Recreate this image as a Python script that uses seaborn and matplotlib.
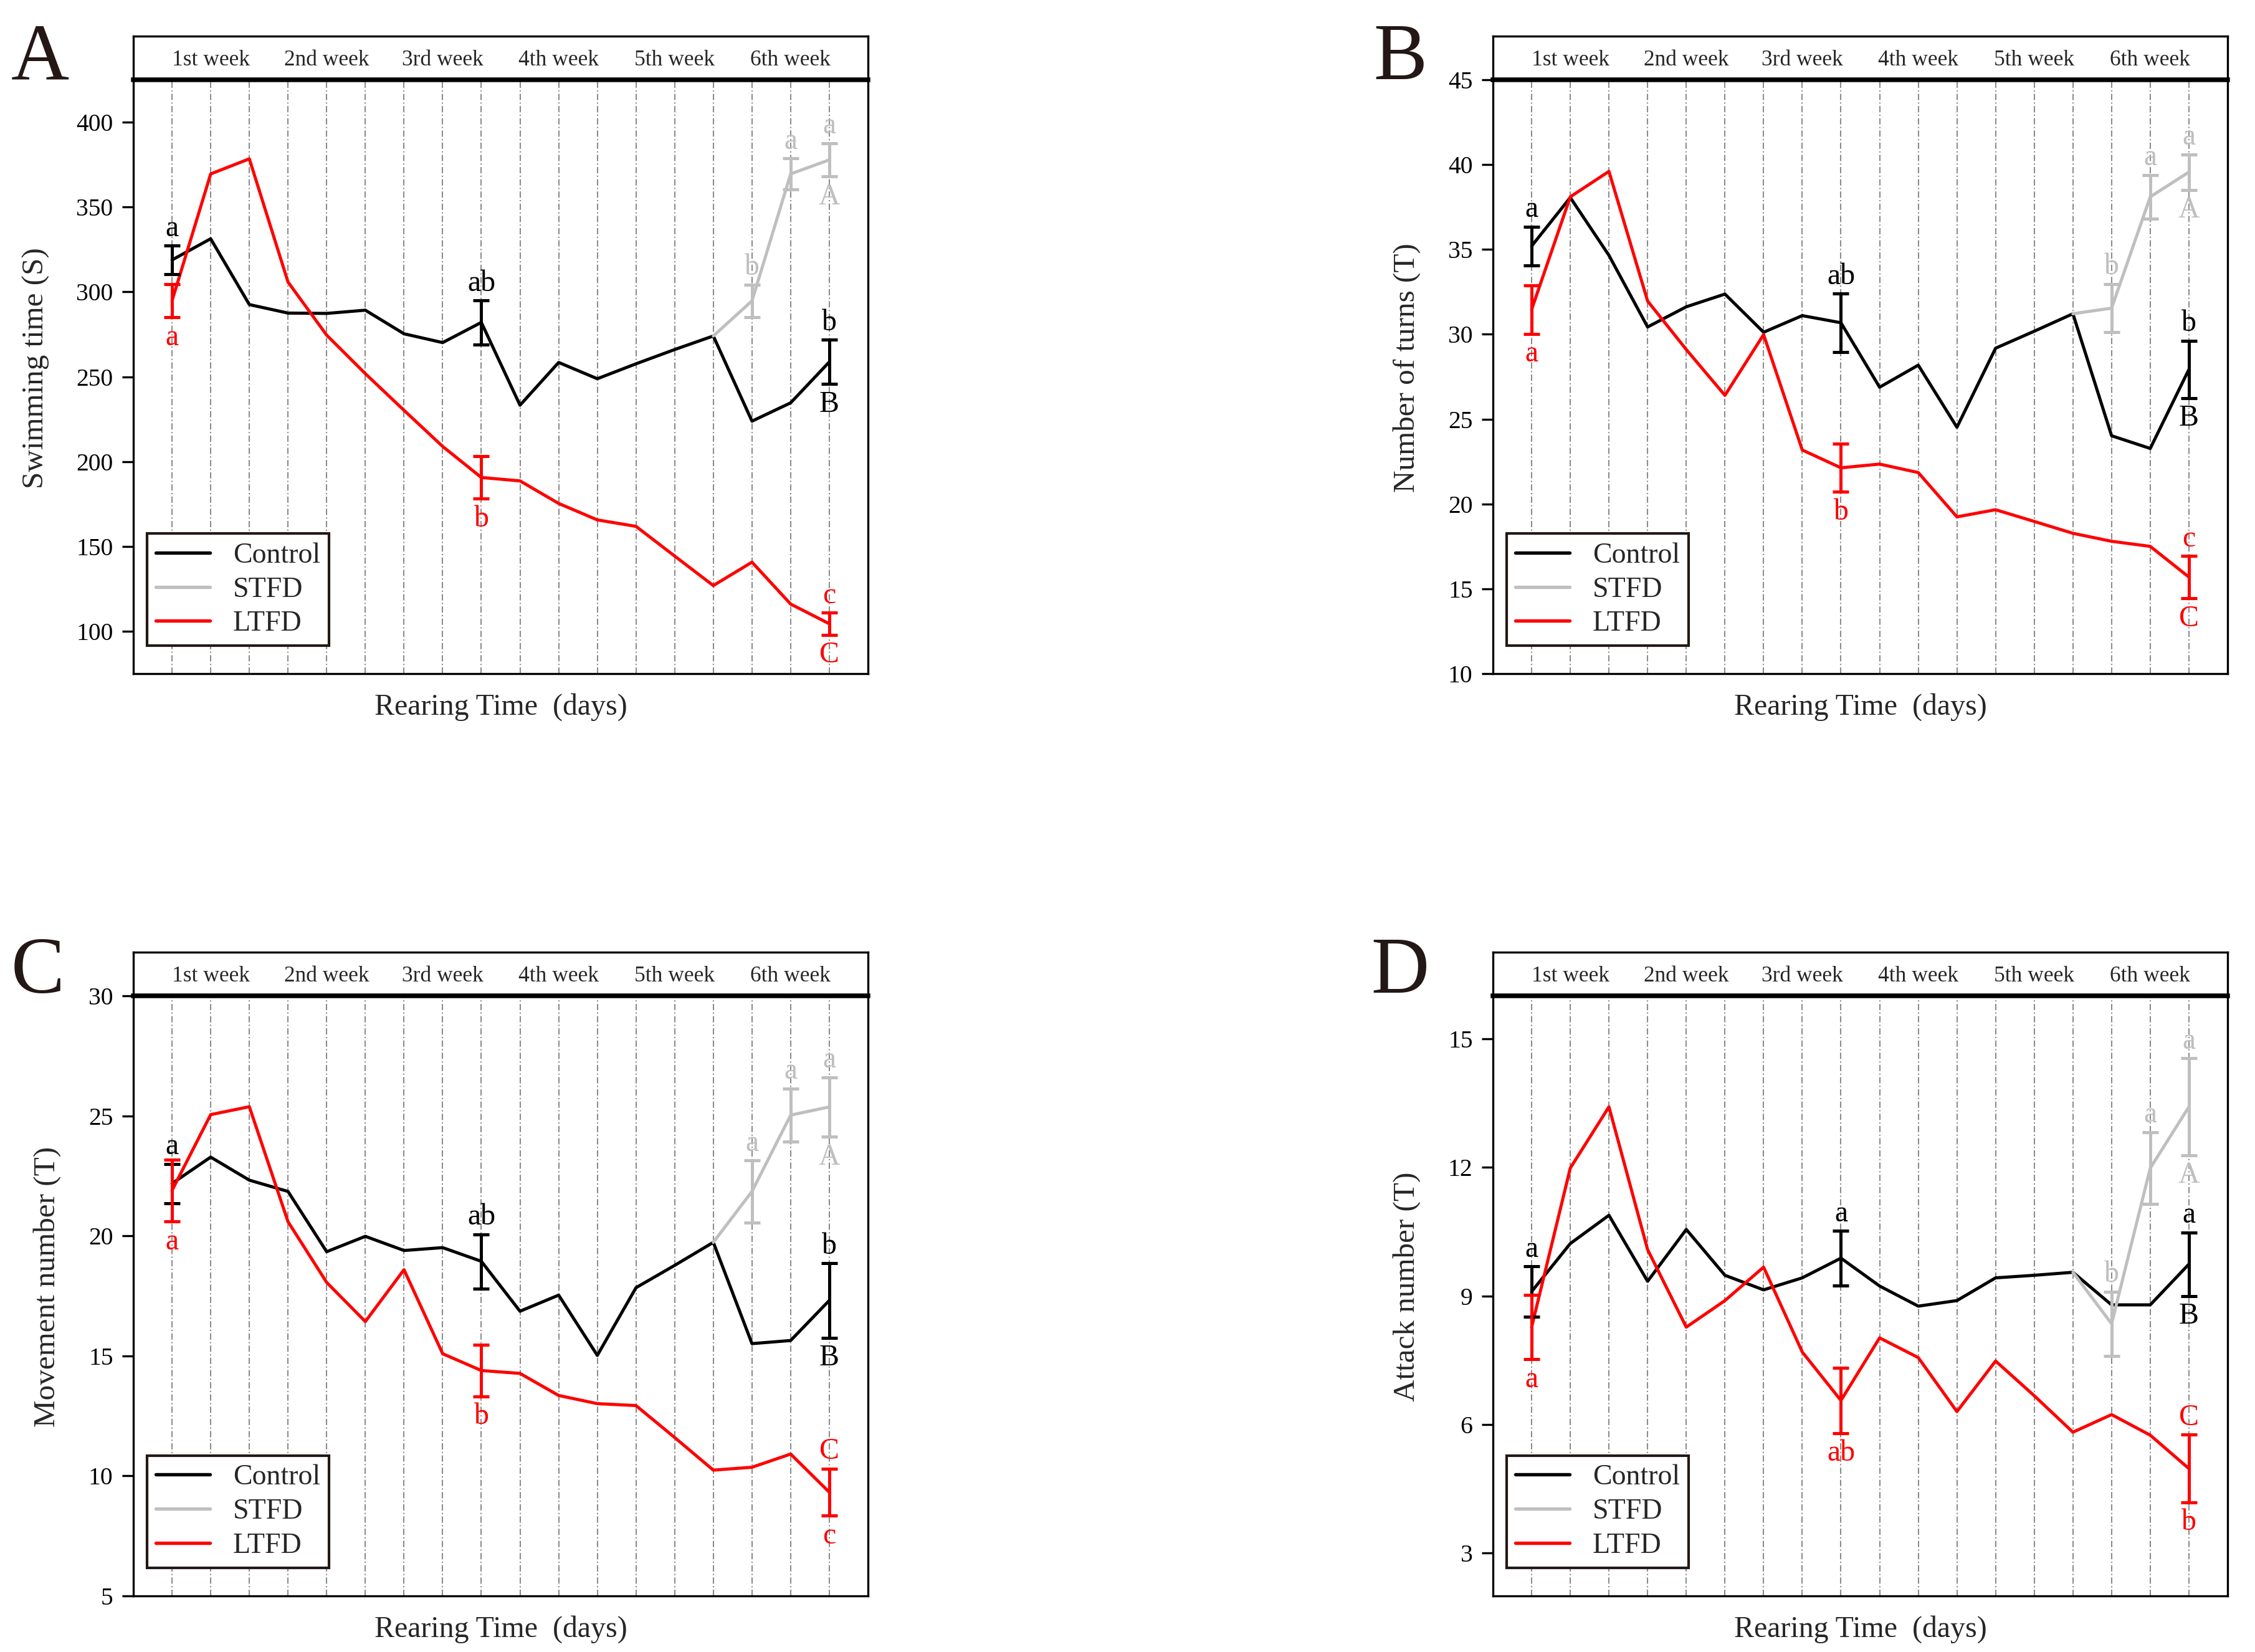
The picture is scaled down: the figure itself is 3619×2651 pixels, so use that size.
import matplotlib
matplotlib.use("Agg")
import matplotlib.pyplot as plt
import pandas as pd
import seaborn as sns

# Shared x layout: 18 sampling days, 3 per week
DAYS = list(range(18))
WEEK_POS = [1, 4, 7, 10, 13, 16]
WEEK_LABELS = ["1st week", "2nd week", "3rd week", "4th week", "5th week", "6th week"]
GROUPS = ["Control", "STFD", "LTFD"]
COLORS = {"Control": "#000000", "STFD": "#BFBFBF", "LTFD": "#FF0000"}
ERR_DAYS = [0, 8, 17]
STFD_DAYS = [14, 15, 16, 17]
STFD_ERR_DAYS = [15, 16, 17]

# A: swimming time
swim_control = [318.8, 331.3, 292.5, 287.5, 287.3, 289.2, 275.3, 270.1, 282.0,
                233.2, 258.4, 248.8, 257.6, 266.0, 274.0, 223.8, 234.6, 258.7]
swim_ltfd = [294.7, 369.5, 378.4, 305.8, 274.5, 251.8, 230.2, 208.9, 190.6,
             188.6, 175.3, 165.6, 161.8, 144.3, 126.9, 140.7, 116.0, 104.4]
swim_stfd = [274.0, 294.7, 369.5, 377.8]
swim_control_se = [8.5, 13.0, 13.0]
swim_ltfd_se = [9.7, 12.5, 6.6]
swim_stfd_se = [9.6, 9.2, 9.8]
swim_letters = {
    "Control": [(0, "a", "up"), (8, "ab", "up"), (17, "b", "up"), (17, "B", "down")],
    "LTFD": [(0, "a", "down"), (8, "b", "down"), (17, "c", "up"), (17, "C", "down")],
    "STFD": [(15, "b", "up"), (16, "a", "up"), (17, "a", "up"), (17, "A", "down")],
}

# B: number of turns
turn_control = [35.2, 38.06, 34.65, 30.43, 31.62, 32.37, 30.12, 31.1, 30.68,
                26.88, 28.18, 24.52, 29.18, 30.18, 31.21, 24.02, 23.27, 27.93]
turn_ltfd = [31.46, 38.1, 39.6, 31.96, 29.1, 26.4, 29.98, 23.18, 22.13,
             22.35, 21.85, 19.24, 19.66, 18.97, 18.27, 17.8, 17.5, 15.69]
turn_stfd = [31.21, 31.54, 38.1, 39.56]
turn_control_se = [1.15, 1.72, 1.69]
turn_ltfd_se = [1.43, 1.42, 1.25]
turn_stfd_se = [1.43, 1.29, 1.05]
turn_letters = {
    "Control": [(0, "a", "up"), (8, "ab", "up"), (17, "b", "up"), (17, "B", "down")],
    "LTFD": [(0, "a", "down"), (8, "b", "down"), (17, "c", "up"), (17, "C", "down")],
    "STFD": [(15, "b", "up"), (16, "a", "up"), (17, "a", "up"), (17, "A", "down")],
}

# C: movement number
move_control = [22.18, 23.28, 22.32, 21.85, 19.34, 19.98, 19.39, 19.51, 18.94,
                16.86, 17.53, 15.02, 17.84, 18.77, 19.73, 15.51, 15.64, 17.31]
move_ltfd = [21.89, 25.05, 25.38, 20.59, 18.06, 16.43, 18.59, 15.09, 14.39,
             14.27, 13.35, 13.01, 12.93, 11.6, 10.24, 10.36, 10.91, 9.32]
move_stfd = [19.73, 21.85, 25.03, 25.37]
move_control_se = [0.82, 1.13, 1.55]
move_ltfd_se = [1.29, 1.08, 0.98]
move_stfd_se = [1.29, 1.11, 1.24]
move_letters = {
    "Control": [(0, "a", "up"), (8, "ab", "up"), (17, "b", "up"), (17, "B", "down")],
    "LTFD": [(0, "a", "down"), (8, "b", "down"), (17, "C", "up"), (17, "c", "down")],
    "STFD": [(15, "a", "up"), (16, "a", "up"), (17, "a", "up"), (17, "A", "down")],
}

# D: attack number
attack_control = [9.1, 10.22, 10.88, 9.34, 10.55, 9.48, 9.14, 9.42, 9.88,
                  9.23, 8.76, 8.89, 9.42, 9.48, 9.55, 8.79, 8.79, 9.74]
attack_ltfd = [8.27, 11.98, 13.41, 10.08, 8.27, 8.89, 9.67, 7.69, 6.56,
               8.02, 7.56, 6.3, 7.48, 6.67, 5.82, 6.23, 5.75, 4.97]
attack_stfd = [9.55, 8.35, 11.98, 13.41]
attack_control_se = [0.59, 0.64, 0.74]
attack_ltfd_se = [0.75, 0.76, 0.79]
attack_stfd_se = [0.75, 0.84, 1.13]
attack_letters = {
    "Control": [(0, "a", "up"), (8, "a", "up"), (17, "a", "up"), (17, "B", "down")],
    "LTFD": [(0, "a", "down"), (8, "ab", "down"), (17, "C", "up"), (17, "b", "down")],
    "STFD": [(15, "b", "up"), (16, "a", "up"), (17, "a", "up"), (17, "A", "down")],
}

sns.set_style("ticks")
plt.rcParams['font.family'] = ['Liberation Serif', 'DejaVu Serif']
plt.rcParams['lines.scale_dashes'] = False

W, H = 3619, 2651
fig = plt.figure(figsize=(W / 300, H / 300), dpi=300)

AX_W = 1179 / W
HEAD_H = 70 / H
TEXT_DARK = "#231815"


def draw_panel(rect, tag, tag_xy, ylabel, label_x, yticks, ylim,
               control, ltfd, stfd, control_se, ltfd_se, stfd_se, letters):
    left, bottom, height = rect
    ax = fig.add_axes([left, bottom, AX_W, height])

    # Long-form table for seaborn
    df = pd.concat([
        pd.DataFrame({"day": DAYS, "value": control, "group": "Control"}),
        pd.DataFrame({"day": STFD_DAYS, "value": stfd, "group": "STFD"}),
        pd.DataFrame({"day": DAYS, "value": ltfd, "group": "LTFD"}),
    ], ignore_index=True)
    sns.lineplot(data=df, x="day", y="value", hue="group", hue_order=GROUPS,
                 palette=COLORS, estimator=None, linewidth=1.2, ax=ax, legend=True)

    # Error bars at the sampled days
    means = {"Control": control, "LTFD": ltfd}
    for g, se in [("Control", control_se), ("LTFD", ltfd_se)]:
        ax.errorbar(ERR_DAYS, [means[g][d] for d in ERR_DAYS], yerr=se, fmt="none",
                    ecolor=COLORS[g], elinewidth=1.2, capsize=3.2, capthick=1.2, zorder=3)
    stfd_means = [stfd[STFD_DAYS.index(d)] for d in STFD_ERR_DAYS]
    ax.errorbar(STFD_ERR_DAYS, stfd_means, yerr=stfd_se, fmt="none",
                ecolor=COLORS["STFD"], elinewidth=1.2, capsize=3.2, capthick=1.2, zorder=3)

    # Significance letters above / below the bars
    se_lookup = {
        "Control": dict(zip(ERR_DAYS, control_se)),
        "LTFD": dict(zip(ERR_DAYS, ltfd_se)),
        "STFD": dict(zip(STFD_ERR_DAYS, stfd_se)),
    }
    for g, items in letters.items():
        for d, txt, pos in items:
            m = stfd[STFD_DAYS.index(d)] if g == "STFD" else means[g][d]
            s = se_lookup[g][d]
            if pos == "up":
                ax.annotate(txt, xy=(d, m + s), xytext=(0, 1.3), textcoords="offset points",
                            ha="center", va="bottom", fontsize=11.5, color=COLORS[g])
            else:
                ax.annotate(txt, xy=(d, m - s), xytext=(0, -2.5), textcoords="offset points",
                            ha="center", va="top", fontsize=11.5, color=COLORS[g])

    ax.set_xlim(-1, 18)
    ax.set_xticks(DAYS)
    ax.tick_params(axis="x", length=0, labelbottom=False)
    ax.grid(axis="x", color="#8c8c8c", linewidth=0.5, linestyle=(0, (2.4, 0.9, 0.5, 0.9)))
    ax.set_axisbelow(True)
    ax.set_ylim(*ylim)
    ax.set_yticks(yticks)
    ax.set_yticklabels([str(t) for t in yticks])
    ax.tick_params(axis="y", direction="out", length=4.3, width=0.8, labelsize=9.5,
                   pad=3.5, colors="black")
    for sp in ax.spines.values():
        sp.set_linewidth(0.8)
        sp.set_color("black")
    ax.spines["top"].set_visible(False)

    ax.set_xlabel("Rearing Time  (days)", fontsize=11.5, labelpad=7.5)
    ax.set_ylabel(ylabel, fontsize=11.8)
    ax.yaxis.set_label_coords(label_x, 0.515)

    leg = ax.get_legend()
    handles = leg.legend_handles
    labels = [t.get_text() for t in leg.get_texts()]
    leg = ax.legend(handles, labels, loc="lower left", bbox_to_anchor=(0.019, 0.047),
                    fontsize=11, frameon=True, fancybox=False, edgecolor=TEXT_DARK,
                    framealpha=1, borderpad=0.3, labelspacing=0.27, handlelength=1.9,
                    handletextpad=0.8, borderaxespad=0)
    leg.get_frame().set_linewidth(1.0)
    for h in leg.get_lines():
        h.set_linewidth(1.3)

    # Week header strip
    hax = fig.add_axes([left, bottom + height, AX_W, HEAD_H])
    hax.set_xlim(-1, 18)
    hax.set_ylim(0, 1)
    hax.set_xticks([])
    hax.set_yticks([])
    for sp in hax.spines.values():
        sp.set_linewidth(0.8)
        sp.set_color("black")
    hax.spines["bottom"].set_linewidth(1.8)
    for x, lab in zip(WEEK_POS, WEEK_LABELS):
        hax.text(x, 0.45, lab, ha="center", va="center", fontsize=8.5)

    fig.text(tag_xy[0], tag_xy[1], tag, fontsize=31, color=TEXT_DARK, va="baseline")


LEFT_1, LEFT_2 = 214 / W, 2396 / W
TOP_ROW = (1 - 1081 / H, 953 / H)
BOT_ROW = (1 - 2561 / H, 963 / H)

draw_panel((LEFT_1, *TOP_ROW), "A", (0.005, 0.952), "Swimming time (S)", -0.114,
           [100, 150, 200, 250, 300, 350, 400], (75, 425),
           swim_control, swim_ltfd, swim_stfd,
           swim_control_se, swim_ltfd_se, swim_stfd_se, swim_letters)
draw_panel((LEFT_2, *TOP_ROW), "B", (0.609, 0.952), "Number of turns (T)", -0.098,
           [10, 15, 20, 25, 30, 35, 40, 45], (10, 45),
           turn_control, turn_ltfd, turn_stfd,
           turn_control_se, turn_ltfd_se, turn_stfd_se, turn_letters)
draw_panel((LEFT_1, *BOT_ROW), "C", (0.005, 0.399), "Movement number (T)", -0.098,
           [5, 10, 15, 20, 25, 30], (5, 30),
           move_control, move_ltfd, move_stfd,
           move_control_se, move_ltfd_se, move_stfd_se, move_letters)
draw_panel((LEFT_2, *BOT_ROW), "D", (0.608, 0.399), "Attack number (T)", -0.098,
           [3, 6, 9, 12, 15], (2, 16),
           attack_control, attack_ltfd, attack_stfd,
           attack_control_se, attack_ltfd_se, attack_stfd_se, attack_letters)

fig.savefig("out.png", dpi=300)
